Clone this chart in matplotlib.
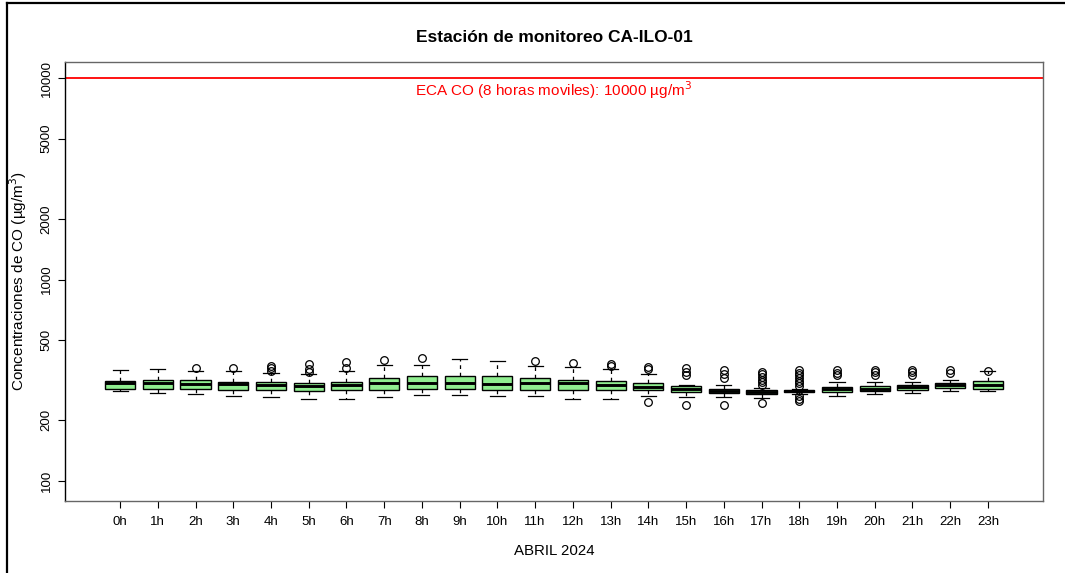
import matplotlib
matplotlib.use('Agg')
import matplotlib.pyplot as plt
from matplotlib.lines import Line2D

plt.rcParams['font.family'] = ['Liberation Sans', 'DejaVu Sans']

# datos (ug/m3)
horas = [f"{h}h" for h in range(24)]
whishi = [355.6, 359.7, 351.5, 351.5, 342.5, 339.7, 352.8, 376.5, 376.5, 403.0, 395.0, 371.0,
          368.0, 359.7, 341.0, 301.0, 299.5, 290.4, 286.3, 309.0, 311.4, 311.4, 318.2, 350.0]
q3 = [314.6, 316.0, 316.0, 311.4, 309.0, 306.5, 311.4, 323.4, 333.0, 333.0, 330.8, 323.4,
      318.2, 313.5, 306.5, 295.0, 286.3, 284.0, 284.0, 292.7, 295.0, 299.5, 306.5, 313.5]
med = [305.6, 305.6, 303.6, 303.6, 299.5, 295.0, 298.0, 305.6, 305.6, 305.6, 303.6, 305.6,
       307.9, 299.5, 292.7, 286.3, 279.7, 277.5, 279.7, 286.3, 286.3, 292.7, 298.0, 299.5]
q1 = [286.3, 287.3, 286.3, 282.0, 282.0, 279.7, 282.0, 282.0, 286.3, 286.3, 284.0, 284.0,
      284.0, 284.0, 282.0, 277.5, 273.3, 271.1, 275.5, 277.5, 279.7, 284.0, 288.3, 286.3]
whislo = [279.7, 274.3, 271.1, 265.0, 261.0, 256.3, 256.3, 261.0, 267.1, 267.1, 265.0, 263.2,
          256.3, 254.0, 265.0, 261.0, 261.0, 258.0, 269.3, 265.0, 269.3, 273.3, 279.7, 279.7]
atipicos = [
    [], [], [365.0], [365.0], [373.5, 362.6, 351.5], [379.5, 359.7, 348.7],
    [388.3, 362.6], [398.6], [406.3], [], [], [393.5],
    [385.2], [379.5, 373.5], [368.0, 359.7, 245.8], [362.6, 348.7, 335.8, 238.3],
    [354.4, 338.6, 323.4, 238.3],
    [348.7, 338.6, 328.2, 318.2, 309.0, 299.5, 243.8],
    [354.4, 345.6, 336.9, 323.4, 313.5, 305.6, 295.0, 263.2, 255.2, 249.4],
    [354.4, 345.6, 336.9], [357.0, 346.3, 335.8], [357.0, 346.3, 335.8],
    [354.4, 345.6], [353.0],
]
eca = 10000
y_ticks = [100, 200, 500, 1000, 2000, 5000, 10000]

stats = []
for i in range(24):
    stats.append({'med': med[i], 'q1': q1[i], 'q3': q3[i], 'whislo': whislo[i],
                  'whishi': whishi[i], 'fliers': atipicos[i], 'label': horas[i]})

fig = plt.figure(figsize=(10.65, 5.73), dpi=100)
ax = fig.add_axes([65/1065, 72/573, (1043-65)/1065, (501-61.7)/573])

pos = list(range(1, 25))
ax.bxp(stats, positions=pos, widths=0.8, patch_artist=True, capwidths=0.4,
       boxprops=dict(facecolor='#90EE90', edgecolor='black', linewidth=1),
       medianprops=dict(color='black', linewidth=2.1),
       whiskerprops=dict(color='black', linewidth=0.9, linestyle=(0, (3, 3))),
       capprops=dict(color='black', linewidth=0.9),
       flierprops=dict(marker='o', markerfacecolor='none', markeredgecolor='black',
                       markersize=5.5, markeredgewidth=0.9))

ax.set_yscale('log')
ax.set_ylim(79.6, 12050)
ax.set_xlim(-0.46, 25.46)
ax.set_yticks(y_ticks)
ax.set_yticklabels([str(t) for t in y_ticks], rotation=90, va='center')
ax.minorticks_off()
ax.set_xticks(pos)
ax.set_xticklabels(horas)
ax.tick_params(labelsize=9.5, length=5, width=0.8, color='black', pad=4)
ax.tick_params(axis='x', pad=6)

ax.axhline(eca, color='red', linewidth=1.3)
ax.text(12.5, eca * 0.985, 'ECA CO (8 horas moviles): 10000 µg/m$^3$', color='red',
        ha='center', va='top', fontsize=11)

for s in ax.spines.values():
    s.set_color('#666666')
    s.set_linewidth(1)
ax.spines['left'].set_color('black')

ax.set_title('Estación de monitoreo CA-ILO-01', fontsize=12.5, fontweight='bold', pad=14)
ax.set_xlabel('ABRIL 2024', fontsize=10.8, labelpad=11)
ax.set_ylabel('Concentraciones de CO (µg/m$^3$)', fontsize=11, labelpad=8)

# marco exterior
fig.add_artist(Line2D([7/1065, 7/1065], [0, 1 - 3/573], color='black', linewidth=1.6))
fig.add_artist(Line2D([7/1065, 1], [1 - 3/573, 1 - 3/573], color='black', linewidth=1.6))

fig.savefig('out.png', dpi=100)
